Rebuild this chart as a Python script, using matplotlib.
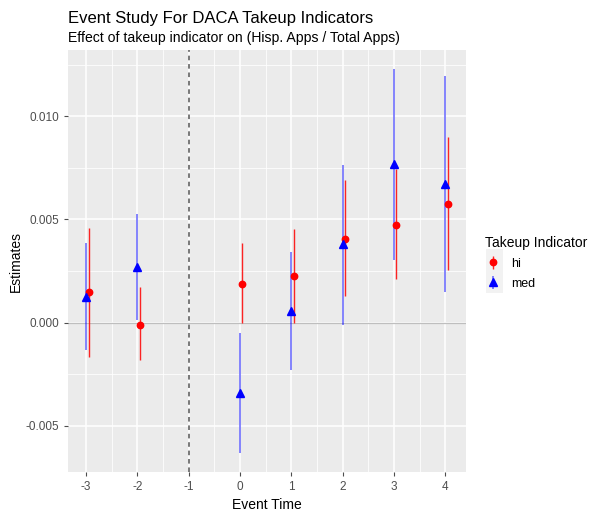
import matplotlib
matplotlib.use("Agg")
import matplotlib.pyplot as plt
from matplotlib.patches import Rectangle

plt.rcParams['font.family'] = ['Liberation Sans', 'DejaVu Sans']
plt.rcParams['axes.unicode_minus'] = False

# event times
event_time = [-3, -2, 0, 1, 2, 3, 4]

# "hi" takeup indicator
hi_est = [0.00146, -0.00010, 0.00189, 0.00225, 0.00406, 0.00474, 0.00573]
hi_lo = [-0.00168, -0.00183, 0.00000, 0.00000, 0.00128, 0.00209, 0.00254]
hi_hi = [0.00461, 0.00173, 0.00387, 0.00456, 0.00691, 0.00744, 0.00898]

# "med" takeup indicator
med_est = [0.00124, 0.00268, -0.00342, 0.00058, 0.00380, 0.00768, 0.00671]
med_lo = [-0.00133, 0.00013, -0.00633, -0.00232, -0.00010, 0.00304, 0.00147]
med_hi = [0.00385, 0.00526, -0.00052, 0.00344, 0.00764, 0.01228, 0.01196]

y_ticks = [-0.005, 0.0, 0.005, 0.010]
y_tick_labels = ['-0.005', '0.000', '0.005', '0.010']

dodge = 0.05

fig = plt.figure(figsize=(5.94, 5.12), dpi=100)
ax = fig.add_axes([0.1145, 0.0775, 0.6695, 0.8245])
ax.set_facecolor('#EBEBEB')

# grid (ggplot-ish)
for x in range(-3, 5):
    ax.axvline(x, color='white', lw=1.1, zorder=0)
    ax.axvline(x + 0.5, color='white', lw=0.55, zorder=0)
for y in y_ticks:
    ax.axhline(y, color='white', lw=1.1, zorder=0)
for y in [-0.0075, -0.0025, 0.0025, 0.0075, 0.0125]:
    ax.axhline(y, color='white', lw=0.55, zorder=0)

ax.axhline(0, color='#BEBEBE', lw=0.9, zorder=1)
ax.axvline(-1, color='#555555', lw=1.1, ls=(0, (3, 2.5)), zorder=1)

hi_x = [t + dodge for t in event_time]
eb1 = ax.errorbar(hi_x, hi_est,
                  yerr=[[e - l for e, l in zip(hi_est, hi_lo)],
                        [h - e for e, h in zip(hi_est, hi_hi)]],
                  fmt='o', color='red', ms=4.6, elinewidth=1.0, capsize=0,
                  label='hi', zorder=3)
eb2 = ax.errorbar(event_time, med_est,
                  yerr=[[e - l for e, l in zip(med_est, med_lo)],
                        [h - e for e, h in zip(med_est, med_hi)]],
                  fmt='^', color='blue', ms=5.2, elinewidth=1.1, capsize=0,
                  label='med', zorder=3)
for lc in eb1[2]:
    lc.set_alpha(0.85)
for lc in eb2[2]:
    lc.set_alpha(0.6)

ax.set_xlim(-3.35, 4.40)
ax.set_ylim(-0.00726, 0.01321)
ax.set_xticks(range(-3, 5))
ax.set_yticks(y_ticks)
ax.set_yticklabels(y_tick_labels)
ax.tick_params(colors='#4D4D4D', labelsize=8.5, length=3, width=0.8)
for s in ax.spines.values():
    s.set_visible(False)

ax.set_xlabel('Event Time', fontsize=10, color='black', labelpad=3)
ax.set_ylabel('Estimates', fontsize=10, color='black', labelpad=2)

fig.text(0.1145, 0.955, 'Event Study For DACA Takeup Indicators', fontsize=12, ha='left')
fig.text(0.1145, 0.918, 'Effect of takeup indicator on (Hisp. Apps / Total Apps)', fontsize=10.1, ha='left')

# legend with grey key boxes
leg = fig.legend(handles=[eb1, eb2], labels=['hi', 'med'], loc='upper left',
                 bbox_to_anchor=(0.798, 0.562), frameon=False, fontsize=9,
                 title='Takeup Indicator', title_fontsize=10,
                 handlelength=1.2, handletextpad=0.9, labelspacing=0.65)
leg._legend_box.align = 'left'
for y0 in [0.4707, 0.4277]:
    fig.patches.append(Rectangle((0.818, y0), 0.029, 0.043, transform=fig.transFigure,
                                 facecolor='#F2F2F2', edgecolor='none', zorder=-1))

fig.savefig('out.png', dpi=100)
